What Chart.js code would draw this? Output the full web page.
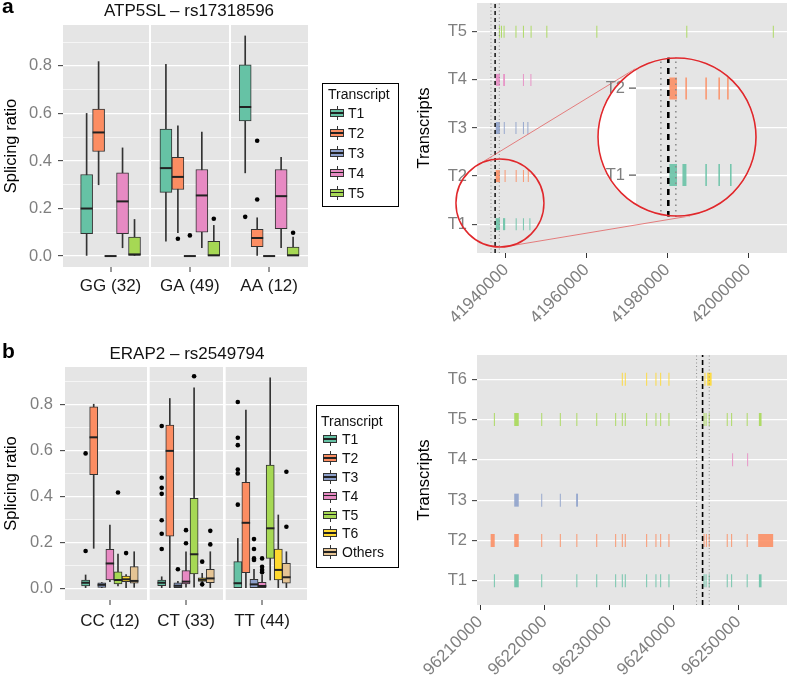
<!DOCTYPE html>
<html>
<head>
<meta charset="utf-8">
<title>Splicing ratios and transcript structures</title>
<script src="https://cdn.jsdelivr.net/npm/chart.js@4.4.1/dist/chart.umd.min.js"></script>
<style>
  body { margin: 0; background: #fff; }
  #fig { position: relative; width: 788px; height: 684px; overflow: hidden; font-family: "Liberation Sans", Arial, sans-serif; color: #111; }
  #fig canvas { position: absolute; }
  .lbl { position: absolute; white-space: nowrap; line-height: 1; }
  .panel { font-size: 21px; font-weight: bold; color: #000; }
  .title { font-size: 17px; transform: translateX(-50%); }
  .lg { font-size: 14px; transform: translateY(-50%); }
  .legend { position: absolute; border: 1.5px solid #000; box-sizing: border-box; }
  .key { position: absolute; width: 16px; height: 16px; }
  .key i { position: absolute; display: block; box-sizing: border-box; }
  .key .wh { left: 7.5px; top: 1px; width: 1px; height: 14px; background: #333; }
  .key .bx { left: 1px; top: 4px; width: 14px; height: 8px; border: 1px solid #333; }
  .key .md { left: 1px; top: 7.2px; width: 14px; height: 1.6px; background: #222; }
</style>
</head>
<body>
<div id="fig">
  <canvas id="boxA" width="378" height="300" style="left:0;top:0"></canvas>
  <canvas id="geneA" width="388" height="340" style="left:400px;top:0"></canvas>
  <canvas id="inset" width="160" height="160" style="left:597px;top:57px"></canvas>
  <canvas id="boxB" width="378" height="300" style="left:0;top:342px"></canvas>
  <canvas id="geneB" width="388" height="344" style="left:400px;top:340px"></canvas>
  <div class="lbl panel" style="left:2px;top:-5px">a</div>
  <div class="lbl panel" style="left:2px;top:340px">b</div>
  <div class="lbl title" style="left:189px;top:2px">ATP5SL – rs17318596</div>
  <div class="lbl title" style="left:187px;top:345px">ERAP2 – rs2549794</div>
</div>
<script>
// Set2 palette used for the transcripts
const setColors = ['#66C2A5', '#FC8D62', '#8DA0CB', '#E78AC3', '#A6D854', '#FFD92F', '#E5C494'];

// ---- a: ATP5SL - rs17318596, one row per genotype: [low whisker, Q1, median, Q3, high whisker]
const atpGenotypes = ['GG (32)', 'GA (49)', 'AA (12)'];
const atpTranscripts = ['T1', 'T2', 'T3', 'T4', 'T5'];
const atpT1 = [[0, 0.094, 0.20, 0.343, 0.60], [0.063, 0.268, 0.37, 0.534, 0.807], [0.35, 0.569, 0.627, 0.804, 0.926]];
const atpT2 = [[0.30, 0.44, 0.52, 0.618, 0.818], [0.098, 0.28, 0.333, 0.415, 0.548], [0, 0.039, 0.076, 0.112, 0.161]];
const atpT3 = [[0, 0, 0, 0, 0], [0, 0, 0, 0, 0], [0, 0, 0, 0, 0]];
const atpT4 = [[0.035, 0.094, 0.23, 0.35, 0.455], [0.035, 0.10, 0.255, 0.364, 0.522], [0.035, 0.115, 0.252, 0.364, 0.415]];
const atpT5 = [[0, 0, 0.007, 0.08, 0.154], [0, 0, 0.003, 0.062, 0.129], [0, 0, 0.003, 0.038, 0.08]];
const atpT1Out = [[], [], [0.165]];
const atpT2Out = [[], [0.073], [0.485, 0.238]];
const atpT3Out = [[], [0.087], []];
const atpT4Out = [[], [], []];
const atpT5Out = [[], [0.157], [0.098]];

// ---- b: ERAP2 - rs2549794
const erapGenotypes = ['CC (12)', 'CT (33)', 'TT (44)'];
const erapTranscripts = ['T1', 'T2', 'T3', 'T4', 'T5', 'T6', 'Others'];
const erapT1 = [[0, 0.010, 0.024, 0.036, 0.058], [0, 0.011, 0.024, 0.036, 0.05], [0, 0, 0.022, 0.116, 0.217]];
const erapT2 = [[0.174, 0.494, 0.657, 0.79, 0.801], [0, 0.227, 0.598, 0.71, 0.826], [0, 0.068, 0.285, 0.461, 0.775]];
const erapT3 = [[0, 0.004, 0.015, 0.024, 0.025], [0, 0, 0.011, 0.024, 0.03], [0, 0, 0.017, 0.039, 0.083]];
const erapT4 = [[0.029, 0.036, 0.108, 0.17, 0.275], [0.005, 0.019, 0.029, 0.077, 0.159], [0, 0, 0.01, 0.026, 0.058]];
const erapT5 = [[0.01, 0.019, 0.036, 0.072, 0.149], [0.005, 0.062, 0.148, 0.391, 0.872], [0.036, 0.13, 0.261, 0.536, 0.916]];
const erapT6 = [[0, 0.029, 0.039, 0.053, 0.06], [0.01, 0.03, 0.037, 0.045, 0.065], [0, 0.036, 0.08, 0.171, 0.319]];
const erapOthers = [[0.004, 0.022, 0.032, 0.094, 0.159], [0, 0.024, 0.043, 0.083, 0.159], [0, 0.022, 0.048, 0.109, 0.159]];
const erapT1Out = [[0.587, 0.162], [0.706, 0.481, 0.437, 0.411, 0.296, 0.237, 0.171], [0.811, 0.655, 0.623, 0.517, 0.5, 0.364]];
const erapT2Out = [[], [], []];
const erapT3Out = [[], [0.083], [0.214, 0.171, 0.13, 0.123]];
const erapT4Out = [[], [0.253, 0.196], [0.13, 0.094, 0.08, 0.07]];
const erapT5Out = [[0.417], [0.923], []];
const erapT6Out = [[0.153], [0.116, 0.017], []];
const erapOthersOut = [[], [0.25, 0.191], [0.507, 0.268]];

const ratioTicks = [0, 0.1, 0.2, 0.3, 0.4, 0.5, 0.6, 0.7, 0.8, 0.9];

// ---- transcript structures, exons as [start, end] genomic positions
const atpSnp = 41937300;
const atpWindow = [41936280, 41938340];
const atpPosTicks = [41940000, 41960000, 41980000, 42000000];
const atpExT1 = [[41937450, 41938500], [41939250, 41939800], [41942400, 41942600], [41944200, 41944400], [41945800, 41946000]];
const atpExT2 = [[41937450, 41938500], [41939650, 41939800], [41942400, 41942600], [41944200, 41944400], [41945400, 41945550]];
const atpExT3 = [[41937450, 41938500], [41939450, 41939600], [41942350, 41942500], [41944200, 41944400], [41945300, 41945450]];
const atpExT4 = [[41937450, 41938500], [41939300, 41939750], [41944200, 41944400], [41946050, 41946200]];
const atpExT5 = [[41938250, 41938450], [41938750, 41939000], [41939400, 41939600], [41942350, 41942500], [41944200, 41944350],
  [41946100, 41946250], [41950000, 41950150], [41962400, 41962550], [41984700, 41984850], [42006150, 42006300]];

const erapSnp = 96244470;
const erapWindow = [96243540, 96245500];
const erapPosTicks = [96210000, 96220000, 96230000, 96240000, 96250000];
const erapExT1 = [[96212150, 96212280], [96215300, 96216000], [96219480, 96219630], [96224920, 96225070], [96228000, 96228150],
  [96230930, 96231080], [96231960, 96232110], [96232420, 96232570], [96235730, 96235880], [96237170, 96237320],
  [96237900, 96238050], [96239180, 96239340], [96244620, 96244770], [96244930, 96245080], [96245420, 96245570],
  [96248210, 96248360], [96248890, 96249040], [96251300, 96251450], [96253190, 96253600]];
const erapExT2 = [[96211650, 96212280], [96215300, 96216000], [96219480, 96219630], [96222360, 96222510], [96224920, 96225070],
  [96228000, 96228150], [96230930, 96231080], [96231960, 96232110], [96232420, 96232570], [96235730, 96235880],
  [96237170, 96237320], [96237900, 96238050], [96239180, 96239340], [96244620, 96244770], [96244980, 96245130],
  [96245420, 96245570], [96248210, 96248360], [96248890, 96249040], [96251300, 96251450], [96253080, 96255400]];
const erapExT3 = [[96215300, 96216000], [96219480, 96219630], [96222360, 96222510], [96224880, 96225180]];
const erapExT4 = [[96249040, 96249190], [96251370, 96251520]];
const erapExT5 = [[96212150, 96212280], [96215300, 96216000], [96219480, 96219630], [96222360, 96222510], [96224920, 96225070],
  [96228000, 96228150], [96230930, 96231080], [96231960, 96232110], [96232420, 96232570], [96235730, 96235880],
  [96237170, 96237320], [96237900, 96238050], [96239180, 96239340], [96244620, 96244770], [96244930, 96245080],
  [96245420, 96245570], [96248210, 96248360], [96248890, 96249040], [96251300, 96251450], [96253190, 96253600]];
const erapExT6 = [[96231960, 96232110], [96232420, 96232570], [96235730, 96235880], [96237170, 96237320], [96237900, 96238050],
  [96239180, 96239340], [96244760, 96244900], [96245180, 96245870]];

Chart.defaults.font.family = '"Liberation Sans", Arial, sans-serif';
Chart.defaults.font.size = 16.5;

const panelBg = {
  id: 'panelBg',
  beforeDraw(chart) {
    const { ctx, chartArea: a } = chart;
    ctx.save();
    ctx.fillStyle = '#E5E5E5';
    ctx.fillRect(a.left, a.top, a.right - a.left, a.bottom - a.top);
    ctx.restore();
  }
};

const isMajor = v => Math.round(v * 10) % 2 === 0;
const clear = 'rgba(0,0,0,0)';

function boxChart(id, groups, names, stats, outs, cfg) {
  const n = names.length;
  const at = (g, t) => g + 1 + (t - (n - 1) / 2) * cfg.dodge;
  const isGap = c => c.tick && !Number.isInteger(c.tick.value);
  const datasets = [];
  stats.forEach((s, t) => {
    datasets.push({
      label: names[t] + ' whiskers',
      data: s.map((q, g) => ({ x: at(g, t), y: [q[0], q[4]] })),
      backgroundColor: '#333', maxBarThickness: 1, order: 3
    });
    datasets.push({
      label: names[t],
      data: s.map((q, g) => ({ x: at(g, t), y: [q[1], q[3]] })),
      backgroundColor: setColors[t], borderColor: '#333', borderWidth: 1, borderSkipped: false, order: 2
    });
    datasets.push({
      type: 'scatter', label: names[t] + ' median',
      data: s.map((q, g) => ({ x: at(g, t), y: q[2] })),
      pointStyle: 'line', pointRadius: cfg.half, pointBorderColor: '#222', pointBorderWidth: 2, order: 1
    });
    datasets.push({
      type: 'scatter', label: names[t] + ' outliers',
      data: outs[t].flatMap((o, g) => o.map(v => ({ x: at(g, t), y: v }))),
      pointRadius: 2.3, pointBackgroundColor: '#000', pointBorderWidth: 0, order: 0
    });
  });
  const facetTicks = groups.flatMap((_, i) => i ? [i + 0.5, i + 1] : [1]);
  return new Chart(document.getElementById(id), {
    type: 'bar',
    data: { datasets },
    options: {
      responsive: false, animation: false, events: [],
      datasets: { bar: { grouped: false, barPercentage: 1, categoryPercentage: 1 } },
      layout: { padding: cfg.pad },
      plugins: { legend: { display: false }, tooltip: { enabled: false } },
      scales: {
        x: {
          type: 'linear', min: cfg.xMin, max: cfg.xMax, offset: false,
          afterBuildTicks: s => { s.ticks = facetTicks.map(v => ({ value: v })); },
          afterFit: s => { s.height = cfg.xAxisH; },
          border: { display: false },
          grid: {
            offset: false,
            color: c => isGap(c) ? '#fff' : clear,
            lineWidth: c => isGap(c) ? cfg.gapW : 0,
            tickColor: c => isGap(c) ? clear : '#333',
            tickWidth: 1, tickLength: 5
          },
          ticks: {
            autoSkip: false, maxRotation: 0, padding: cfg.xPad, color: '#1a1a1a', font: { size: 17 },
            callback: v => Number.isInteger(v) ? groups[v - 1] : ''
          }
        },
        y: {
          min: cfg.yMin, max: cfg.yMax,
          afterBuildTicks: s => { s.ticks = ratioTicks.map(v => ({ value: v })); },
          afterFit: s => { s.width = cfg.yAxisW; },
          border: { display: false },
          grid: {
            color: '#fff',
            lineWidth: c => c.tick && isMajor(c.tick.value) ? 1.3 : 0.6,
            tickColor: c => c.tick && isMajor(c.tick.value) ? '#333' : clear,
            tickWidth: 1, tickLength: 5
          },
          ticks: { autoSkip: false, padding: cfg.yPad, color: '#7f7f7f', callback: v => isMajor(v) ? v.toFixed(1) : '' },
          title: { display: true, text: 'Splicing ratio', color: '#000', padding: { top: 2, bottom: 0 } }
        }
      }
    },
    plugins: [panelBg]
  });
}

function geneChart(id, names, exons, cfg, extra) {
  const datasets = exons.map((list, t) => ({
    label: names[t],
    data: list.map(e => ({ x: e, y: t + 1 })),
    backgroundColor: setColors[t] + 'E0', borderWidth: 0,
    maxBarThickness: cfg.barH, minBarLength: cfg.minLen, order: 2
  }));
  const vline = (pos, color, width, dash) => ({
    type: 'line', data: [{ x: pos, y: cfg.yMin }, { x: pos, y: cfg.yMax }],
    borderColor: color, borderWidth: width, borderDash: dash, pointRadius: 0, order: 0
  });
  cfg.window.forEach(p => datasets.push(vline(p, '#8c8c8c', cfg.dotW, cfg.dot)));
  datasets.push(vline(cfg.snp, '#000', cfg.dashW, cfg.dash));
  return new Chart(document.getElementById(id), {
    type: 'bar',
    data: { datasets },
    options: {
      indexAxis: 'y',
      responsive: false, animation: false, events: [],
      datasets: { bar: { grouped: false } },
      layout: { padding: cfg.pad },
      plugins: { legend: { display: false }, tooltip: { enabled: false } },
      scales: {
        x: {
          type: 'linear', min: cfg.xMin, max: cfg.xMax, display: cfg.showX,
          afterBuildTicks: s => { s.ticks = cfg.xTicks.map(v => ({ value: v })); },
          afterFit: s => { s.height = cfg.xAxisH; s.paddingLeft = 0; s.paddingRight = 0; },
          border: { display: false },
          grid: { drawOnChartArea: false, tickColor: '#333', tickWidth: 1, tickLength: 5 },
          ticks: { autoSkip: false, minRotation: 45, maxRotation: 45, padding: cfg.xPad, color: '#7f7f7f', font: { size: 17 }, callback: v => String(v) }
        },
        y: {
          type: 'linear', min: cfg.yMin, max: cfg.yMax, offset: false,
          afterBuildTicks: s => { s.ticks = names.map((_, i) => ({ value: i + 1 })); },
          afterFit: s => { s.width = cfg.yAxisW; s.paddingTop = 0; s.paddingBottom = 0; },
          border: { display: false },
          grid: { offset: false, color: '#fff', lineWidth: cfg.gridW, tickColor: '#333', tickWidth: 1, tickLength: cfg.tickL },
          ticks: { autoSkip: false, padding: cfg.yPad, color: '#7f7f7f', callback: v => names[v - 1] },
          title: { display: cfg.showTitle, text: 'Transcripts', color: '#000', padding: { top: 15, bottom: 0 } }
        }
      }
    },
    plugins: (extra || []).concat([panelBg])
  });
}

// red circle around a region of the structure plot and the two lines to the magnified view
const zoomCenter = [41938500, 1.44];
const zoomRadius = 44;
const bigCircle = { x: 277, y: 137, r: 80 };
const zoomGuide = {
  id: 'zoomGuide',
  afterDraw(chart) {
    const { ctx, scales: { x, y } } = chart;
    const cx = x.getPixelForValue(zoomCenter[0]), cy = y.getPixelForValue(zoomCenter[1]);
    const d = Math.hypot(bigCircle.x - cx, bigCircle.y - cy);
    const base = Math.atan2(bigCircle.y - cy, bigCircle.x - cx);
    const th = Math.acos((zoomRadius - bigCircle.r) / d);
    ctx.save();
    ctx.strokeStyle = 'rgba(226,80,80,0.7)';
    ctx.lineWidth = 1;
    [base + th, base - th].forEach(a => {
      ctx.beginPath();
      ctx.moveTo(cx + zoomRadius * Math.cos(a), cy + zoomRadius * Math.sin(a));
      ctx.lineTo(bigCircle.x + bigCircle.r * Math.cos(a), bigCircle.y + bigCircle.r * Math.sin(a));
      ctx.stroke();
    });
    ctx.strokeStyle = '#E0282C';
    ctx.lineWidth = 1.5;
    ctx.beginPath();
    ctx.arc(cx, cy, zoomRadius, 0, 2 * Math.PI);
    ctx.stroke();
    ctx.restore();
  }
};

// the magnified view is clipped to its circle, but its row labels may spill over the edge
const insetAxisW = 39;
const insetClip = {
  id: 'insetClip',
  beforeDraw(chart) {
    const ctx = chart.ctx;
    ctx.save();
    ctx.beginPath();
    ctx.arc(80, 80, 80, 0, 2 * Math.PI);
    ctx.fillStyle = '#fff';
    ctx.fill();
    ctx.rect(0, 0, insetAxisW, 160);
    ctx.clip();
  },
  afterDraw(chart) {
    const ctx = chart.ctx;
    ctx.restore();
    ctx.save();
    ctx.strokeStyle = '#E0282C';
    ctx.lineWidth = 1.6;
    ctx.beginPath();
    ctx.arc(80, 80, 79, 0, 2 * Math.PI);
    ctx.stroke();
    ctx.restore();
  }
};

boxChart('boxA', atpGenotypes, atpTranscripts,
  [atpT1, atpT2, atpT3, atpT4, atpT5], [atpT1Out, atpT2Out, atpT3Out, atpT4Out, atpT5Out],
  { pad: { top: 25, right: 70, left: 0, bottom: 0 }, xAxisH: 33, yAxisW: 63, xMin: 0.40, xMax: 3.49,
    yMin: -0.046, yMax: 0.972, dodge: 0.151, half: 6, gapW: 2, xPad: 4, yPad: 6 });

boxChart('boxB', erapGenotypes, erapTranscripts,
  [erapT1, erapT2, erapT3, erapT4, erapT5, erapT6, erapOthers],
  [erapT1Out, erapT2Out, erapT3Out, erapT4Out, erapT5Out, erapT6Out, erapOthersOut],
  { pad: { top: 25, right: 71, left: 0, bottom: 0 }, xAxisH: 42, yAxisW: 65, xMin: 0.41, xMax: 3.59,
    yMin: -0.051, yMax: 0.963, dodge: 0.1064, half: 4.2, gapW: 2.7, xPad: 6, yPad: 7 });

const geneA = geneChart('geneA', atpTranscripts, [atpExT1, atpExT2, atpExT3, atpExT4, atpExT5],
  { pad: { top: 3, right: 1, left: 0, bottom: 0 }, xAxisH: 87, yAxisW: 77, xMin: 41932811, xMax: 42009668,
    yMin: 0.4, yMax: 5.6, xTicks: atpPosTicks, snp: atpSnp, window: atpWindow, barH: 12, minLen: 1,
    dashW: 1.4, dash: [4, 3], dotW: 1, dot: [1, 2.5], gridW: 1.3, tickL: 5, xPad: 2, yPad: 5,
    showX: true, showTitle: true }, [zoomGuide]);

geneChart('geneB', erapTranscripts.slice(0, 6), [erapExT1, erapExT2, erapExT3, erapExT4, erapExT5, erapExT6],
  { pad: { top: 15, right: 1, left: 0, bottom: 0 }, xAxisH: 79, yAxisW: 77, xMin: 96209535, xMax: 96257543,
    yMin: 0.4, yMax: 6.6, xTicks: erapPosTicks, snp: erapSnp, window: erapWindow, barH: 13, minLen: 1,
    dashW: 1.6, dash: [5, 3], dotW: 1, dot: [1, 2.5], gridW: 1.3, tickL: 5, xPad: 2, yPad: 5,
    showX: true, showTitle: true });

// magnified view of the circled region, scaled from the main plot's own scales
const mag = 1.8;
const bpPerPx = (geneA.scales.x.max - geneA.scales.x.min) / geneA.scales.x.width;
const pxPerRow = geneA.scales.y.height / (geneA.scales.y.max - geneA.scales.y.min);
geneChart('inset', atpTranscripts.slice(0, 2), [atpExT1, atpExT2],
  { pad: 0, xAxisH: 0, yAxisW: insetAxisW,
    xMin: zoomCenter[0] - (80 - insetAxisW) * bpPerPx / mag, xMax: zoomCenter[0] + 80 * bpPerPx / mag,
    yMin: zoomCenter[1] - 80 / (pxPerRow * mag), yMax: zoomCenter[1] + 80 / (pxPerRow * mag),
    xTicks: [], snp: atpSnp, window: atpWindow, barH: 22, minLen: 1.6,
    dashW: 2.6, dash: [6, 5], dotW: 1.6, dot: [1.5, 4], gridW: 2.2, tickL: 7, xPad: 0, yPad: 4,
    showX: false, showTitle: false }, [insetClip]);

// legends
function addText(text, x, cy, cls) {
  const d = document.createElement('div');
  d.className = 'lbl ' + cls;
  d.textContent = text;
  d.style.left = x + 'px';
  d.style.top = cy + 'px';
  document.getElementById('fig').appendChild(d);
}
function drawLegend(box, names) {
  const fig = document.getElementById('fig');
  const frame = document.createElement('div');
  frame.className = 'legend';
  Object.assign(frame.style, { left: box.x + 'px', top: box.y + 'px', width: box.w + 'px', height: box.h + 'px' });
  fig.appendChild(frame);
  addText('Transcript', box.titleX, box.titleY, 'lg');
  names.forEach((name, i) => {
    const cy = box.firstY + i * box.step;
    const key = document.createElement('div');
    key.className = 'key';
    key.style.left = box.keyX + 'px';
    key.style.top = (cy - 8) + 'px';
    key.innerHTML = '<i class="wh"></i><i class="bx" style="background:' + setColors[i] + '"></i><i class="md"></i>';
    fig.appendChild(key);
    addText(name, box.textX, cy, 'lg');
  });
}
drawLegend({ x: 322, y: 83, w: 77, h: 124, titleX: 328, titleY: 93.5, firstY: 113.3, step: 19.8, keyX: 329, textX: 348 }, atpTranscripts);
drawLegend({ x: 316, y: 405, w: 83, h: 163, titleX: 321, titleY: 421, firstY: 439.3, step: 18.8, keyX: 322, textX: 342 }, erapTranscripts);
</script>
</body>
</html>
